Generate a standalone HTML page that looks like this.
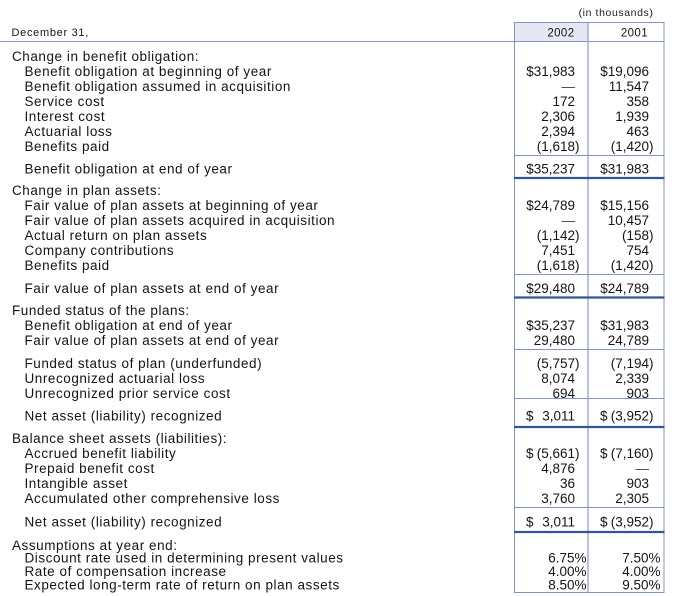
<!DOCTYPE html>
<html>
<head>
<meta charset="utf-8">
<style>
  html, body { margin: 0; padding: 0; background: #ffffff; }
  svg { display: block; }
  .l { font-family: "Liberation Sans", Arial, sans-serif; font-size: 13.5px; letter-spacing: 0.55px; fill: #141414; }
  .n { font-family: "Liberation Sans", Arial, sans-serif; font-size: 13.5px; fill: #141414; text-anchor: end; }
  .d { font-family: "Liberation Sans", Arial, sans-serif; font-size: 13.5px; fill: #141414; }
  .dash { font-family: "Liberation Sans", Arial, sans-serif; font-size: 13.5px; fill: #444; text-anchor: end; }
</style>
</head>
<body>
<svg width="699" height="596" viewBox="0 0 699 596" xmlns="http://www.w3.org/2000/svg">
  <rect x="0" y="0" width="699" height="596" fill="#ffffff"/>
  <!-- header shading -->
  <rect x="514" y="22" width="74" height="19.5" fill="#e6e7f2"/>

  <!-- header texts -->
  <text x="653.5" y="16" style="font-family:'Liberation Sans',Arial,sans-serif;font-size:10.5px;letter-spacing:0.6px;fill:#222;text-anchor:end">(in thousands)</text>
  <text x="11.5" y="36" style="font-family:'Liberation Sans',Arial,sans-serif;font-size:11px;letter-spacing:0.7px;fill:#141414">December 31,</text>
  <text x="574.5" y="36.5" style="font-family:'Liberation Sans',Arial,sans-serif;font-size:11.5px;letter-spacing:0.4px;fill:#141414;text-anchor:end">2002</text>
  <text x="648" y="36.5" style="font-family:'Liberation Sans',Arial,sans-serif;font-size:11.5px;letter-spacing:0.4px;fill:#141414;text-anchor:end">2001</text>

  <!-- lines -->
  <g stroke="#8294c6" stroke-width="1" fill="none">
    <line x1="514" y1="22.5" x2="664.5" y2="22.5"/>
    <line x1="0" y1="41.5" x2="664.5" y2="41.5"/>
    <line x1="514.5" y1="22" x2="514.5" y2="593"/>
    <line x1="588" y1="22" x2="588" y2="593" stroke="#93a2d0" stroke-width="1.3"/>
    <line x1="664" y1="22" x2="664" y2="593"/>
    <line x1="514" y1="155.5" x2="664.5" y2="155.5"/>
    <line x1="514" y1="274.5" x2="664.5" y2="274.5"/>
    <line x1="514" y1="349.5" x2="664.5" y2="349.5"/>
    <line x1="514" y1="398.5" x2="664.5" y2="398.5"/>
    <line x1="514" y1="507.5" x2="664.5" y2="507.5"/>
    <line x1="514" y1="592.5" x2="664.5" y2="592.5"/>
  </g>
  <g stroke="#34539b" stroke-width="2.2" fill="none">
    <line x1="514" y1="178" x2="664.5" y2="178"/>
    <line x1="514" y1="297.5" x2="664.5" y2="297.5"/>
    <line x1="514" y1="427" x2="664.5" y2="427"/>
    <line x1="514" y1="532" x2="664.5" y2="532"/>
  </g>

  <!-- Section 1 -->
  <text class="l" x="12" y="61">Change in benefit obligation:</text>
  <text class="l" x="24.5" y="76">Benefit obligation at beginning of year</text>
  <text class="l" x="24.5" y="91">Benefit obligation assumed in acquisition</text>
  <text class="l" x="24.5" y="106">Service cost</text>
  <text class="l" x="24.5" y="121">Interest cost</text>
  <text class="l" x="24.5" y="136">Actuarial loss</text>
  <text class="l" x="24.5" y="151">Benefits paid</text>
  <text class="l" x="24.5" y="173.5">Benefit obligation at end of year</text>

  <text class="n" x="575" y="76">$31,983</text>
  <text class="n" x="649" y="76">$19,096</text>
  <text class="dash" x="575" y="91">—</text>
  <text class="n" x="649" y="91">11,547</text>
  <text class="n" x="575" y="106">172</text>
  <text class="n" x="649" y="106">358</text>
  <text class="n" x="575" y="121">2,306</text>
  <text class="n" x="649" y="121">1,939</text>
  <text class="n" x="575" y="136">2,394</text>
  <text class="n" x="649" y="136">463</text>
  <text class="n" x="579.5" y="151">(1,618)</text>
  <text class="n" x="653.5" y="151">(1,420)</text>
  <text class="n" x="575" y="173.5">$35,237</text>
  <text class="n" x="649" y="173.5">$31,983</text>

  <!-- Section 2 -->
  <text class="l" x="12" y="195">Change in plan assets:</text>
  <text class="l" x="24.5" y="210">Fair value of plan assets at beginning of year</text>
  <text class="l" x="24.5" y="225">Fair value of plan assets acquired in acquisition</text>
  <text class="l" x="24.5" y="240">Actual return on plan assets</text>
  <text class="l" x="24.5" y="255">Company contributions</text>
  <text class="l" x="24.5" y="270">Benefits paid</text>
  <text class="l" x="24.5" y="293">Fair value of plan assets at end of year</text>

  <text class="n" x="575" y="210">$24,789</text>
  <text class="n" x="649" y="210">$15,156</text>
  <text class="dash" x="575" y="225">—</text>
  <text class="n" x="649" y="225">10,457</text>
  <text class="n" x="579.5" y="240">(1,142)</text>
  <text class="n" x="653.5" y="240">(158)</text>
  <text class="n" x="575" y="255">7,451</text>
  <text class="n" x="649" y="255">754</text>
  <text class="n" x="579.5" y="270">(1,618)</text>
  <text class="n" x="653.5" y="270">(1,420)</text>
  <text class="n" x="575" y="293">$29,480</text>
  <text class="n" x="649" y="293">$24,789</text>

  <!-- Section 3 -->
  <text class="l" x="12" y="315">Funded status of the plans:</text>
  <text class="l" x="24.5" y="330">Benefit obligation at end of year</text>
  <text class="l" x="24.5" y="345">Fair value of plan assets at end of year</text>
  <text class="l" x="24.5" y="368">Funded status of plan (underfunded)</text>
  <text class="l" x="24.5" y="383">Unrecognized actuarial loss</text>
  <text class="l" x="24.5" y="398">Unrecognized prior service cost</text>
  <text class="l" x="24.5" y="420.5">Net asset (liability) recognized</text>

  <text class="n" x="575" y="330">$35,237</text>
  <text class="n" x="649" y="330">$31,983</text>
  <text class="n" x="575" y="345">29,480</text>
  <text class="n" x="649" y="345">24,789</text>
  <text class="n" x="579.5" y="368">(5,757)</text>
  <text class="n" x="653.5" y="368">(7,194)</text>
  <text class="n" x="575" y="383">8,074</text>
  <text class="n" x="649" y="383">2,339</text>
  <text class="n" x="575" y="398">694</text>
  <text class="n" x="649" y="398">903</text>
  <text class="d" x="526" y="420.5">$</text>
  <text class="n" x="575" y="420.5">3,011</text>
  <text class="d" x="600" y="420.5">$</text>
  <text class="n" x="653.5" y="420.5">(3,952)</text>

  <!-- Section 4 -->
  <text class="l" x="12" y="443">Balance sheet assets (liabilities):</text>
  <text class="l" x="24.5" y="458">Accrued benefit liability</text>
  <text class="l" x="24.5" y="473">Prepaid benefit cost</text>
  <text class="l" x="24.5" y="488">Intangible asset</text>
  <text class="l" x="24.5" y="503">Accumulated other comprehensive loss</text>
  <text class="l" x="24.5" y="526.5">Net asset (liability) recognized</text>

  <text class="d" x="526" y="458">$</text>
  <text class="n" x="579.5" y="458">(5,661)</text>
  <text class="d" x="600" y="458">$</text>
  <text class="n" x="653.5" y="458">(7,160)</text>
  <text class="n" x="575" y="473">4,876</text>
  <text class="dash" x="649" y="473">—</text>
  <text class="n" x="575" y="488">36</text>
  <text class="n" x="649" y="488">903</text>
  <text class="n" x="575" y="503">3,760</text>
  <text class="n" x="649" y="503">2,305</text>
  <text class="d" x="526" y="526.5">$</text>
  <text class="n" x="575" y="526.5">3,011</text>
  <text class="d" x="600" y="526.5">$</text>
  <text class="n" x="653.5" y="526.5">(3,952)</text>

  <!-- Section 5 -->
  <text class="l" x="12" y="550">Assumptions at year end:</text>
  <text class="l" x="24.5" y="562.5">Discount rate used in determining present values</text>
  <text class="l" x="24.5" y="576">Rate of compensation increase</text>
  <text class="l" x="24.5" y="589.5">Expected long-term rate of return on plan assets</text>

  <text class="n" x="586.5" y="562.5">6.75%</text>
  <text class="n" x="660.5" y="562.5">7.50%</text>
  <text class="n" x="586.5" y="576">4.00%</text>
  <text class="n" x="660.5" y="576">4.00%</text>
  <text class="n" x="586.5" y="589.5">8.50%</text>
  <text class="n" x="660.5" y="589.5">9.50%</text>
</svg>
</body>
</html>
